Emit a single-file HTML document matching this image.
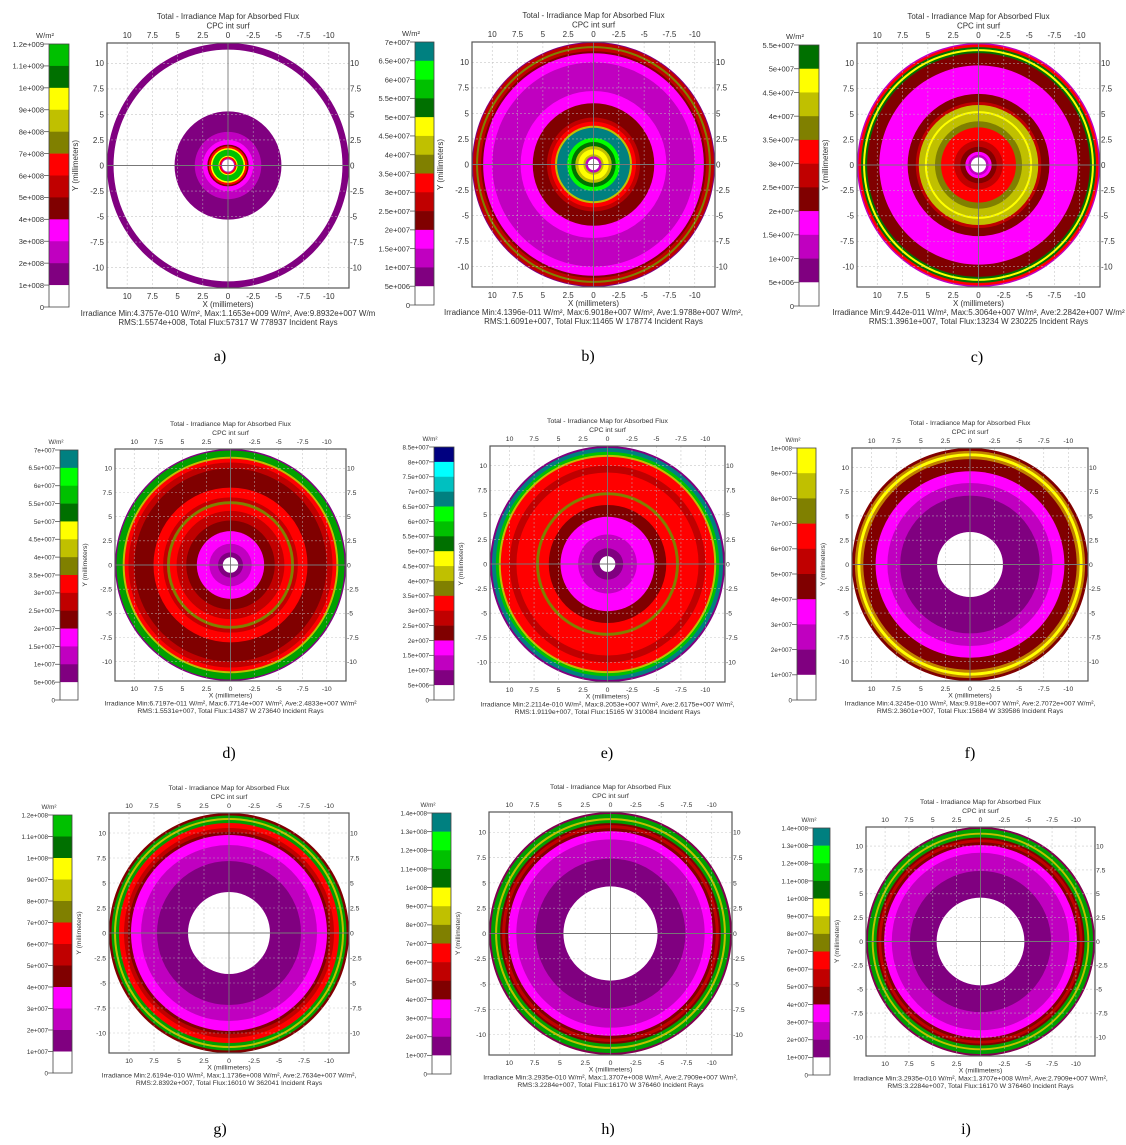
<!DOCTYPE html>
<html><head><meta charset="utf-8">
<style>
html,body{margin:0;padding:0;background:#fff;}
svg{display:block;font-family:"Liberation Sans",Arial,sans-serif;}
.cap{font-family:"Liberation Serif",serif;font-size:16px;}
</style></head>
<body>
<svg id="fig" width="1126" height="1145" viewBox="0 0 1126 1145" xmlns="http://www.w3.org/2000/svg"></svg>
<script>
// ---------- colorbar palettes (top -> bottom) ----------
const cbColorsA = ['#00c000','#007000','#ffff00','#c0c000','#808000','#ff0000','#c00000','#800000','#ff00ff','#c000c0','#800080','#ffffff'];
const cbLabelsA = ['1.2e+009','1.1e+009','1e+009','9e+008','8e+008','7e+008','6e+008','5e+008','4e+008','3e+008','2e+008','1e+008','0'];
const cbColorsB = ['#008080','#00ff00','#00c000','#007000','#ffff00','#c0c000','#808000','#ff0000','#c00000','#800000','#ff00ff','#c000c0','#800080','#ffffff'];
const cbLabelsB = ['7e+007','6.5e+007','6e+007','5.5e+007','5e+007','4.5e+007','4e+007','3.5e+007','3e+007','2.5e+007','2e+007','1.5e+007','1e+007','5e+006','0'];
const cbColorsC = ['#007000','#ffff00','#c0c000','#808000','#ff0000','#c00000','#800000','#ff00ff','#c000c0','#800080','#ffffff'];
const cbLabelsC = ['5.5e+007','5e+007','4.5e+007','4e+007','3.5e+007','3e+007','2.5e+007','2e+007','1.5e+007','1e+007','5e+006','0'];
const cbColorsD = cbColorsB;
const cbLabelsD = cbLabelsB;
const cbColorsE = ['#000080','#00ffff','#00c0c0','#008080','#00ff00','#00c000','#007000','#ffff00','#c0c000','#808000','#ff0000','#c00000','#800000','#ff00ff','#c000c0','#800080','#ffffff'];
const cbLabelsE = ['8.5e+007','8e+007','7.5e+007','7e+007','6.5e+007','6e+007','5.5e+007','5e+007','4.5e+007','4e+007','3.5e+007','3e+007','2.5e+007','2e+007','1.5e+007','1e+007','5e+006','0'];
const cbColorsF = ['#ffff00','#c0c000','#808000','#ff0000','#c00000','#800000','#ff00ff','#c000c0','#800080','#ffffff'];
const cbLabelsF = ['1e+008','9e+007','8e+007','7e+007','6e+007','5e+007','4e+007','3e+007','2e+007','1e+007','0'];
const cbColorsG = cbColorsA;
const cbLabelsG = ['1.2e+008','1.1e+008','1e+008','9e+007','8e+007','7e+007','6e+007','5e+007','4e+007','3e+007','2e+007','1e+007','0'];
const cbColorsH = cbColorsB;
const cbLabelsH = ['1.4e+008','1.3e+008','1.2e+008','1.1e+008','1e+008','9e+007','8e+007','7e+007','6e+007','5e+007','4e+007','3e+007','2e+007','1e+007','0'];
const cbColorsI = cbColorsB;
const cbLabelsI = cbLabelsH;

// ---------- ring data: [outer radius mm, colour], outer -> inner ----------
const ringsA = [[12,'#800080'],[11.35,'#ffffff'],[5.3,'#800080'],[3.3,'#c000c0'],[2.5,'#ff00ff'],[2.05,'#800000'],[1.9,'#ff0000'],[1.7,'#ffff00'],[1.55,'#00c000'],[0.95,'#ffff00'],[0.85,'#ff0000'],[0.7,'#c000c0'],[0.6,'#ffffff']];
const ringsB = [[12,'#800080'],[11.9,'#c00000'],[11.6,'#808000'],[11.4,'#c00000'],[11.1,'#800000'],[10.9,'#ff00ff'],[10.0,'#c000c0'],[7.2,'#ff00ff'],[6.0,'#800000'],[4.6,'#c00000'],[4.2,'#ff0000'],[3.8,'#c0c000'],[3.6,'#008080'],[2.6,'#00ff00'],[2.2,'#007000'],[1.8,'#c0c000'],[1.5,'#ffff00'],[1.0,'#c0c000'],[0.8,'#c000c0'],[0.55,'#ffffff']];
const ringsC = [[12,'#c000c0'],[11.85,'#ff0000'],[11.6,'#007000'],[11.4,'#ffff00'],[11.2,'#007000'],[11.0,'#800000'],[9.8,'#ff00ff'],[7.0,'#800000'],[6.2,'#c00000'],[5.9,'#c0c000'],[5.3,'#ffff00'],[5.1,'#c0c000'],[4.3,'#808000'],[3.7,'#ff0000'],[2.4,'#c00000'],[1.8,'#800000'],[1.3,'#ff00ff'],[1.0,'#c000c0'],[0.75,'#ffffff']];
const ringsD = [[12,'#800080'],[11.85,'#00a000'],[11.2,'#c0c000'],[11.0,'#ff0000'],[10.6,'#c00000'],[10.0,'#800000'],[8.0,'#ff0000'],[7.0,'#c00000'],[6.6,'#808000'],[6.3,'#ff0000'],[5.6,'#c00000'],[4.6,'#800000'],[3.5,'#ff00ff'],[2.2,'#c000c0'],[1.3,'#800080'],[0.8,'#ffffff']];
const ringsE = [[12,'#800080'],[11.8,'#008080'],[11.4,'#00c000'],[11.1,'#c0c000'],[10.9,'#ff0000'],[10.0,'#c00000'],[9.3,'#ff0000'],[7.3,'#808000'],[7.0,'#ff0000'],[6.0,'#800000'],[4.8,'#ff00ff'],[3.0,'#c000c0'],[1.6,'#800080'],[0.8,'#ffffff']];
const ringsF = [[12,'#800000'],[11.7,'#c08000'],[11.45,'#ffff00'],[11.15,'#c08000'],[10.85,'#800000'],[9.6,'#ff00ff'],[8.4,'#c000c0'],[7.1,'#800080'],[3.35,'#ffffff']];
const ringsG = [[12,'#800000'],[11.75,'#00a000'],[11.5,'#c0c000'],[11.3,'#00a000'],[11.0,'#ff0000'],[10.5,'#c00000'],[10.1,'#800000'],[9.8,'#ff00ff'],[8.8,'#c000c0'],[7.2,'#800080'],[4.1,'#ffffff']];
const ringsH = [[12,'#800050'],[11.8,'#00a000'],[11.4,'#c0c000'],[11.2,'#00a000'],[10.9,'#800000'],[10.7,'#c00000'],[10.4,'#800000'],[10.1,'#ff00ff'],[9.3,'#c000c0'],[7.4,'#800080'],[4.65,'#ffffff']];
const ringsI = [[12,'#800050'],[11.8,'#00a000'],[11.4,'#c0c000'],[11.2,'#00a000'],[10.9,'#800000'],[10.7,'#c00000'],[10.4,'#800000'],[10.1,'#ff00ff'],[9.3,'#c000c0'],[7.4,'#800080'],[4.6,'#ffffff']];

// axis ticks (mm)
const tickValues = [10,7.5,5,2.5,0,-2.5,-5,-7.5,-10];
const tickLabels = ['10','7.5','5','2.5','0','-2.5','-5','-7.5','-10'];
const yTickValues = [10,7.5,5,2.5,0,-2.5,-5,-7.5,-10];
const yTickLabels = ['10','7.5','5','2.5','0','-2.5','-5','-7.5','-10'];
const gridValues = [10,7.5,5,2.5,-2.5,-5,-7.5,-10];

const statLine1 = [
 'Irradiance Min:4.3757e-010 W/m², Max:1.1653e+009 W/m², Ave:9.8932e+007 W/m',
 'Irradiance Min:4.1396e-011 W/m², Max:6.9018e+007 W/m², Ave:1.9788e+007 W/m²,',
 'Irradiance Min:9.442e-011 W/m², Max:5.3064e+007 W/m², Ave:2.2842e+007 W/m²',
 'Irradiance Min:6.7197e-011 W/m², Max:6.7714e+007 W/m², Ave:2.4833e+007 W/m²',
 'Irradiance Min:2.2114e-010 W/m², Max:8.2053e+007 W/m², Ave:2.6175e+007 W/m²,',
 'Irradiance Min:4.3245e-010 W/m², Max:9.918e+007 W/m², Ave:2.7072e+007 W/m²,',
 'Irradiance Min:2.6194e-010 W/m², Max:1.1736e+008 W/m², Ave:2.7634e+007 W/m²,',
 'Irradiance Min:3.2935e-010 W/m², Max:1.3707e+008 W/m², Ave:2.7909e+007 W/m²,',
 'Irradiance Min:3.2935e-010 W/m², Max:1.3707e+008 W/m², Ave:2.7909e+007 W/m²,'];
const statLine2 = [
 'RMS:1.5574e+008, Total Flux:57317 W 778937 Incident Rays',
 'RMS:1.6091e+007, Total Flux:11465 W 178774 Incident Rays',
 'RMS:1.3961e+007, Total Flux:13234 W 230225 Incident Rays',
 'RMS:1.5531e+007, Total Flux:14387 W 273640 Incident Rays',
 'RMS:1.9119e+007, Total Flux:15165 W 310084 Incident Rays',
 'RMS:2.3601e+007, Total Flux:15684 W 339586 Incident Rays',
 'RMS:2.8392e+007, Total Flux:16010 W 362041 Incident Rays',
 'RMS:3.2284e+007, Total Flux:16170 W 376460 Incident Rays',
 'RMS:3.2284e+007, Total Flux:16170 W 376460 Incident Rays'];
const captions = ['a)','b)','c)','d)','e)','f)','g)','h)','i)'];

// layout (positions only)
const layout = [
 {cb:[49,44,20,263], box:[107,43,242,245], fs:8,   cap:[220,361], colors:cbColorsA, labels:cbLabelsA, rings:ringsA},
 {cb:[415,42,19,263], box:[472,42,243,245], fs:8,   cap:[588,361], colors:cbColorsB, labels:cbLabelsB, rings:ringsB},
 {cb:[799,45,20,261], box:[857,43,243,244], fs:8,   cap:[977,362], colors:cbColorsC, labels:cbLabelsC, rings:ringsC},
 {cb:[60,450,18,250], box:[115,449,231,232], fs:6.8, cap:[229,758], colors:cbColorsD, labels:cbLabelsD, rings:ringsD},
 {cb:[434,447,20,253], box:[490,446,235,236], fs:6.8, cap:[607,758], colors:cbColorsE, labels:cbLabelsE, rings:ringsE},
 {cb:[797,448,19,252], box:[852,448,236,233], fs:6.8, cap:[970,758], colors:cbColorsF, labels:cbLabelsF, rings:ringsF},
 {cb:[53,815,19,258], box:[109,813,240,240], fs:6.8, cap:[220,1134], colors:cbColorsG, labels:cbLabelsG, rings:ringsG},
 {cb:[432,813,19,261], box:[489,812,243,243], fs:6.8, cap:[608,1134], colors:cbColorsH, labels:cbLabelsH, rings:ringsH},
 {cb:[813,828,17,247], box:[866,827,229,229], fs:6.8, cap:[966,1134], colors:cbColorsI, labels:cbLabelsI, rings:ringsI}
];

const NS='http://www.w3.org/2000/svg';
const fig=document.getElementById('fig');
function mk(tag,attrs,parent){const e=document.createElementNS(NS,tag);for(const k in attrs)e.setAttribute(k,attrs[k]);(parent||fig).appendChild(e);return e;}
function txt(s,attrs,parent){const e=mk('text',attrs,parent);e.textContent=s;return e;}

layout.forEach((p,pi)=>{
  const g=mk('g',{});
  
  
  const [bx,by,bw,bh]=p.box;
  const cx=bx+bw/2, cy=by+bh/2;
  const sx=bw/24, sy=bh/24;
  const X=v=>cx-v*sx;
  const Y=v=>cy-v*sy;
  const fs=p.fs;

  const [cx0,cy0,cw,ch]=p.cb;
  const n=p.colors.length, cellH=ch/n;
  const cbg=mk('g',{},g);
  
  
  p.colors.forEach((c,i)=>{
    const r=mk('rect',{x:cx0,y:cy0+i*cellH,width:cw,height:cellH+0.3,fill:c},cbg);
    
    
  });
  mk('rect',{x:cx0,y:cy0,width:cw,height:ch,fill:'none',stroke:'#444','stroke-width':0.8},cbg);
  p.labels.forEach((l,i)=>{
    const yy=cy0+i*cellH;
    mk('line',{x1:cx0-5,y1:yy,x2:cx0,y2:yy,stroke:'#555','stroke-width':0.8},cbg);
    const t=txt(l,{x:cx0-5,y:yy+fs*0.35,'font-size':fs-0.5,'text-anchor':'end',fill:'#333'},cbg);
    
    
  });
  const u=txt('W/m²',{x:cx0-4,y:cy0-6,'font-size':fs-0.5,'text-anchor':'middle',fill:'#333'},cbg);
  
  

  const clipId='clip'+pi;
  const cp=mk('clipPath',{id:clipId},g);
  mk('rect',{x:bx,y:by,width:bw,height:bh},cp);
  const plot=mk('g',{'clip-path':'url(#'+clipId+')'},g);
  
  
  mk('rect',{x:bx,y:by,width:bw,height:bh,fill:'#fff'},plot);
  p.rings.forEach(r=>{
    const e=mk('ellipse',{cx:cx,cy:cy,rx:(X(-r[0])-cx),ry:(cy-Y(r[0])),fill:r[1]},plot);
    
    
  });
  gridValues.forEach(v=>{
    mk('line',{x1:X(v),y1:by,x2:X(v),y2:by+bh,stroke:'#bbb','stroke-width':0.6,'stroke-dasharray':'2,2','opacity':0.8},plot);
    mk('line',{x1:bx,y1:Y(v),x2:bx+bw,y2:Y(v),stroke:'#bbb','stroke-width':0.6,'stroke-dasharray':'2,2','opacity':0.8},plot);
  });
  mk('line',{x1:X(0),y1:by,x2:X(0),y2:by+bh,stroke:'#777','stroke-width':0.9},plot);
  mk('line',{x1:bx,y1:Y(0),x2:bx+bw,y2:Y(0),stroke:'#777','stroke-width':0.9},plot);
  mk('rect',{x:bx,y:by,width:bw,height:bh,fill:'none',stroke:'#555','stroke-width':1.2},g);

  tickValues.forEach((v,i)=>{
    const a=txt(tickLabels[i],{x:X(v),y:by-5,'font-size':fs,'text-anchor':'middle',fill:'#333'},g);
    
    
    const b=txt(tickLabels[i],{x:X(v),y:by+bh+fs+3,'font-size':fs,'text-anchor':'middle',fill:'#333'},g);
    
    
  });
  yTickValues.forEach((v,i)=>{
    const a=txt(yTickLabels[i],{x:bx-3,y:Y(v)+fs*0.35,'font-size':fs,'text-anchor':'end',fill:'#333'},g);
    
    
    const b=txt(yTickLabels[i],{x:bx+bw+1,y:Y(v)+fs*0.35,'font-size':fs,'text-anchor':'start',fill:'#333'},g);
    
    
  });

  const t1=txt('Total - Irradiance Map for Absorbed Flux',{x:cx,y:by-23-(fs-7),'font-size':fs,'text-anchor':'middle',fill:'#333'},g);
  
  
  const t2=txt('CPC int surf',{x:cx,y:by-14-(fs-7)*0.5,'font-size':fs,'text-anchor':'middle',fill:'#333'},g);
  
  
  const xt=txt('X (millimeters)',{x:cx,y:by+bh+2*fs+3,'font-size':fs,'text-anchor':'middle',fill:'#333'},g);
  
  
  const yx=cx0+cw+9;
  const yt=txt('Y (millimeters)',{x:yx,y:cy,'font-size':fs,'text-anchor':'middle',fill:'#333',transform:'rotate(-90 '+yx+' '+cy+')'},g);
  
  
  const s1=txt(statLine1[pi],{x:cx,y:by+bh+3*fs+4,'font-size':fs,'text-anchor':'middle',fill:'#333'},g);
  
  
  const s2=txt(statLine2[pi],{x:cx,y:by+bh+4*fs+5,'font-size':fs,'text-anchor':'middle',fill:'#333'},g);
  
  
  const c=txt(captions[pi],{x:p.cap[0],y:p.cap[1],'text-anchor':'middle',class:'cap',fill:'#000'},g);
  
  
});
</script>
</body></html>
